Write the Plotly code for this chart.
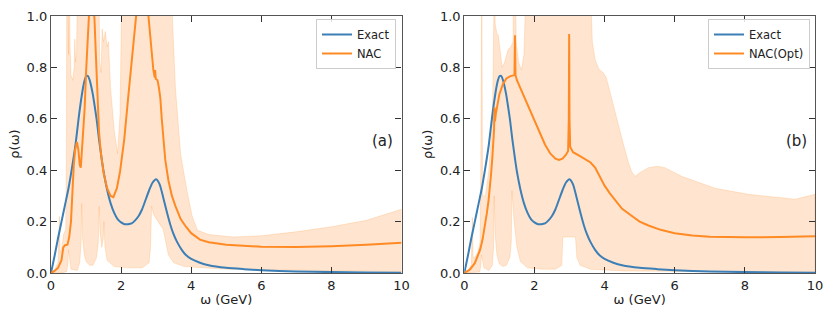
import plotly.graph_objects as go

# ---------------- data ----------------
exact_w = [0, 0.1, 0.2, 0.3, 0.4, 0.5, 0.6, 0.7, 0.8, 0.9, 0.95, 1.0, 1.05, 1.1, 1.15, 1.2,
           1.3, 1.37, 1.45, 1.5, 1.6, 1.7, 1.8, 1.9, 2.0, 2.1, 2.2, 2.3, 2.4, 2.5, 2.6, 2.7,
           2.8, 2.9, 3.0, 3.1, 3.2, 3.3, 3.4, 3.5, 3.6, 3.73, 3.85, 4.0, 4.25, 4.5, 5.0, 5.5,
           6.0, 7.0, 8.0, 9.0, 10.0]
exact_r = [0, 0.065, 0.135, 0.2, 0.265, 0.33, 0.41, 0.5, 0.615, 0.71, 0.745, 0.765, 0.767,
           0.752, 0.725, 0.69, 0.6, 0.52, 0.44, 0.395, 0.325, 0.272, 0.235, 0.21, 0.197,
           0.19, 0.19, 0.193, 0.205, 0.222, 0.248, 0.285, 0.322, 0.352, 0.365, 0.345, 0.295,
           0.24, 0.19, 0.15, 0.12, 0.09, 0.07, 0.055, 0.04, 0.03, 0.02, 0.015, 0.011,
           0.006, 0.0035, 0.002, 0.0012]

nac_w = [0, 0.1, 0.2, 0.3, 0.35, 0.4, 0.47, 0.52, 0.57, 0.61, 0.65, 0.69, 0.74, 0.78, 0.82,
         0.85, 0.88, 0.92, 0.96, 1.0, 1.04, 1.08, 1.12, 1.16, 1.2, 1.24, 1.28, 1.32, 1.37,
         1.42, 1.5, 1.6, 1.7, 1.78, 1.88, 1.97, 2.09, 2.2, 2.3, 2.42, 2.5, 2.6, 2.7, 2.78,
         2.85, 2.92, 2.96, 2.97, 2.99, 3.04, 3.08, 3.12, 3.16, 3.21, 3.26, 3.35, 3.45, 3.55,
         3.7, 3.85, 4.0, 4.25, 4.5, 5.0, 5.5, 6.0, 7.0, 8.0, 9.0, 10.0]
nac_r = [0, 0.008, 0.02, 0.05, 0.1, 0.108, 0.11, 0.14, 0.2, 0.33, 0.42, 0.48, 0.51, 0.48,
         0.42, 0.41, 0.47, 0.52, 0.64, 0.78, 0.91, 1.02, 1.1, 1.12, 1.06, 0.99, 0.85, 0.7,
         0.55, 0.47, 0.39, 0.33, 0.3, 0.295, 0.33, 0.395, 0.52, 0.68, 0.83, 1.0, 1.1, 1.15,
         1.1, 1.0, 0.88, 0.79, 0.76, 0.79, 0.755, 0.75, 0.72, 0.68, 0.6, 0.52, 0.44, 0.36,
         0.3, 0.26, 0.21, 0.18, 0.155, 0.13, 0.12, 0.11, 0.105, 0.102, 0.101, 0.104, 0.11,
         0.118]

band_a_up_w = [0, 0.1, 0.2, 0.22, 0.24, 0.26, 0.3, 0.36, 0.42, 0.44, 0.45, 0.48, 0.5, 0.52,
               0.54, 0.57, 0.62, 0.66, 0.68, 0.7, 0.73, 0.76, 1.36, 1.39, 1.43, 1.46, 1.5,
               1.55, 1.6, 1.64, 1.7, 1.8, 1.9, 1.97, 2.03, 3.4, 3.55, 3.7, 3.88, 4.03, 4.18,
               4.5, 5.2, 6.0, 7.1, 8.0, 9.0, 10.0]
band_a_up_r = [0, 0.012, 0.04, 0.1, 0.22, 0.08, 0.09, 0.15, 0.17, 0.5, 1.2, 1.2, 0.85, 1.2,
               0.9, 0.77, 0.75, 0.8, 0.91, 0.82, 0.86, 1.2, 1.2, 0.82, 0.78, 0.95, 0.9, 0.94,
               0.88, 0.9, 0.72, 0.56, 0.465, 0.62, 1.2, 1.2, 0.72, 0.46, 0.32, 0.22, 0.166,
               0.15, 0.14, 0.145, 0.162, 0.18, 0.205, 0.248]
band_a_lo_w = [0, 0.3, 0.44, 0.48, 0.5, 0.53, 0.57, 0.75, 0.82, 0.86, 0.875, 0.9, 0.95, 1.0,
               1.1, 1.2, 1.3, 1.35, 1.375, 1.4, 1.45, 1.49, 1.51, 1.54, 1.6, 1.8, 2.2, 2.6,
               2.8, 2.84, 2.87, 2.92, 3.0, 3.1, 3.2, 3.27, 3.35, 3.5, 3.8, 5.0, 10.0]
band_a_lo_r = [0, 0, 0.005, 0.03, 0.09, 0.05, 0.015, 0.01, 0.04, 0.12, 0.27, 0.14, 0.07,
               0.045, 0.03, 0.03, 0.06, 0.12, 0.26, 0.16, 0.1, 0.13, 0.2, 0.1, 0.05, 0.025,
               0.02, 0.02, 0.04, 0.1, 0.26, 0.23, 0.21, 0.19, 0.17, 0.12, 0.07, 0.04, 0.025,
               0.015, 0.005]

opt_w = [0, 0.15, 0.3, 0.45, 0.52, 0.59, 0.64, 0.69, 0.73, 0.76, 0.8, 0.83, 0.85, 0.86,
         0.875, 0.9, 0.95, 1.0, 1.1, 1.2, 1.3, 1.38, 1.43, 1.445, 1.46, 1.5, 1.63, 1.92, 2.1,
         2.3, 2.45, 2.6, 2.7, 2.8, 2.9, 2.96, 2.98, 2.99, 3.0, 3.02, 3.1, 3.3, 3.5, 3.6,
         3.73, 3.85, 4.0, 4.15, 4.3, 4.5, 4.77, 5.0, 5.25, 5.6, 6.0, 6.5, 7.0, 8.0, 9.0, 10.0]
opt_r = [0, 0.012, 0.038, 0.09, 0.13, 0.18, 0.23, 0.28, 0.33, 0.38, 0.45, 0.51, 0.56, 0.645,
         0.59, 0.62, 0.665, 0.695, 0.735, 0.757, 0.765, 0.768, 0.77, 0.925, 0.77, 0.75, 0.71,
         0.62, 0.56, 0.5, 0.465, 0.445, 0.44, 0.445, 0.46, 0.475, 0.6, 0.93, 0.6, 0.49, 0.47,
         0.455, 0.44, 0.43, 0.41, 0.38, 0.34, 0.31, 0.285, 0.25, 0.223, 0.2, 0.185, 0.168,
         0.155, 0.146, 0.141, 0.139, 0.14, 0.143]

band_b_up_w = [0, 0.1, 0.2, 0.215, 0.23, 0.25, 0.3, 0.38, 0.45, 0.47, 0.48, 0.5, 0.52, 0.6,
               0.7, 0.78, 0.81, 0.82, 0.86, 0.88, 0.93, 0.97, 1.02, 1.08, 1.15, 1.25, 1.33,
               1.39, 1.4, 1.46, 1.48, 1.55, 1.63, 1.7, 1.78, 3.58, 3.65, 3.73, 3.85, 3.96,
               4.05, 4.3, 4.5, 4.68, 4.77, 4.87, 5.0, 5.25, 5.5, 5.72, 6.2, 7.15, 8.1, 9.05,
               9.43, 10.0]
band_b_up_r = [0, 0.01, 0.03, 0.1, 0.216, 0.06, 0.06, 0.08, 0.12, 0.4, 1.2, 1.2, 0.3, 0.3,
               0.4, 0.55, 0.68, 1.2, 1.2, 0.97, 0.93, 0.925, 0.87, 0.8, 0.82, 0.87, 0.88, 0.9,
               1.2, 1.2, 0.9, 0.82, 0.79, 0.85, 1.2, 1.2, 0.9, 0.83, 0.79, 0.78, 0.76, 0.62,
               0.52, 0.43, 0.395, 0.376, 0.39, 0.41, 0.415, 0.41, 0.376, 0.33, 0.306, 0.293,
               0.287, 0.306]
band_b_lo_w = [0, 0.44, 0.47, 0.49, 0.52, 0.56, 0.7, 0.8, 0.835, 0.85, 0.88, 0.93, 1.0, 1.1,
               1.2, 1.3, 1.34, 1.36, 1.42, 1.5, 1.6, 1.8, 2.2, 2.6, 2.78, 2.81, 3.17, 3.21,
               3.3, 3.6, 4.5, 10.0]
band_b_lo_r = [0, 0.004, 0.03, 0.07, 0.05, 0.02, 0.01, 0.03, 0.1, 0.3, 0.15, 0.07, 0.035,
               0.025, 0.03, 0.06, 0.12, 0.32, 0.2, 0.1, 0.045, 0.02, 0.015, 0.015, 0.03, 0.14,
               0.14, 0.06, 0.03, 0.015, 0.008, 0.003]

x_ticks = [0, 2, 4, 6, 8, 10]
y_ticks = [0.0, 0.2, 0.4, 0.6, 0.8, 1.0]
y_tick_text = ["0.0", "0.2", "0.4", "0.6", "0.8", "1.0"]
panel_labels = ["(a)", "(b)"]
legend_names = [("Exact", "NAC"), ("Exact", "NAC(Opt)")]

# ---------------- figure ----------------
BLUE = "#3b7fb6"
ORANGE = "#ff8a24"
BAND = "rgba(255,127,14,0.2)"
BAND_EDGE = "rgba(255,127,14,0.22)"
FONT = "DejaVu Sans"

# the page body adds an 8px offset; figure coordinates below are screen - 8
W, H = 823, 307
ML, MR, MT, MB = 43, 16, 8, 42
pw = W - ML - MR
ph = H - MT - MB
dom1 = [0, (393.5 - ML) / pw]
dom2 = [(456.3 - ML) / pw, 1]

fig = go.Figure()

panels = [
    (band_a_up_w, band_a_up_r, band_a_lo_w, band_a_lo_r, nac_w, nac_r, "legend", "x", "y"),
    (band_b_up_w, band_b_up_r, band_b_lo_w, band_b_lo_r, opt_w, opt_r, "legend2", "x2", "y2"),
]
for i, (uw, ur, lw, lr, nw, nr, leg, xa, ya) in enumerate(panels):
    poly_x = list(uw) + list(reversed(lw))
    poly_y = list(ur) + list(reversed(lr))
    fig.add_trace(go.Scatter(x=poly_x, y=poly_y, fill="toself", fillcolor=BAND,
                             mode="lines", line=dict(color=BAND_EDGE, width=0.8),
                             showlegend=False, hoverinfo="skip", xaxis=xa, yaxis=ya))
    fig.add_trace(go.Scatter(x=exact_w, y=exact_r, mode="lines",
                             line=dict(color=BLUE, width=2, shape="spline", smoothing=0.6),
                             name=legend_names[i][0], legend=leg, xaxis=xa, yaxis=ya))
    fig.add_trace(go.Scatter(x=nw, y=nr, mode="lines",
                             line=dict(color=ORANGE, width=2),
                             name=legend_names[i][1], legend=leg, xaxis=xa, yaxis=ya))

axis_common = dict(showgrid=False, zeroline=False, showline=True, linecolor="#555",
                   linewidth=1.2, mirror="ticks", ticks="inside", ticklen=6, tickwidth=1.2,
                   tickcolor="#333", automargin=False, ticklabeloverflow="allow",
                   tickfont=dict(family=FONT, size=13, color="#222"))
xt = dict(range=[0, 10], tickvals=x_ticks, ticktext=[str(v) for v in x_ticks],
          title=dict(text="ω (GeV)", font=dict(family=FONT, size=13, color="#222"),
                     standoff=3), **axis_common)
yt = dict(range=[0, 1], tickvals=y_ticks, ticktext=y_tick_text, **axis_common)

leg_style = dict(bgcolor="rgba(255,255,255,0.85)", bordercolor="#cccccc", borderwidth=1,
                 font=dict(family=FONT, size=11.5, color="#222"), itemwidth=30,
                 yanchor="top", xanchor="right", tracegroupgap=0)
fig.update_layout(
    width=W, height=H,
    margin=dict(l=ML, r=MR, t=MT, b=MB, autoexpand=False),
    plot_bgcolor="white", paper_bgcolor="white",
    font=dict(family=FONT, size=13, color="#222"),
    xaxis=dict(domain=dom1, anchor="y", **xt),
    yaxis=dict(domain=[0, 1], anchor="x", **yt),
    xaxis2=dict(domain=dom2, anchor="y2", **xt),
    yaxis2=dict(domain=[0, 1], anchor="x2", **yt),
    legend=dict(x=(388 - ML) / pw, y=1 - 3 / ph, **leg_style),
    legend2=dict(x=(802 - ML) / pw, y=1 - 3 / ph, **leg_style),
)

for i, (xr, yr) in enumerate([("x domain", "y domain"), ("x2 domain", "y2 domain")]):
    fig.add_annotation(text="ρ(ω)", textangle=-90, xref=xr, yref=yr, x=-0.105, y=0.5,
                       xanchor="center", yanchor="middle",
                       showarrow=False, font=dict(family=FONT, size=13, color="#222"))
    fig.add_annotation(text=panel_labels[i], xref=xr, yref=yr, x=0.946, y=0.515,
                       xanchor="center", yanchor="middle",
                       showarrow=False, font=dict(family=FONT, size=15, color="#222"))

fig.write_html("out.html")
